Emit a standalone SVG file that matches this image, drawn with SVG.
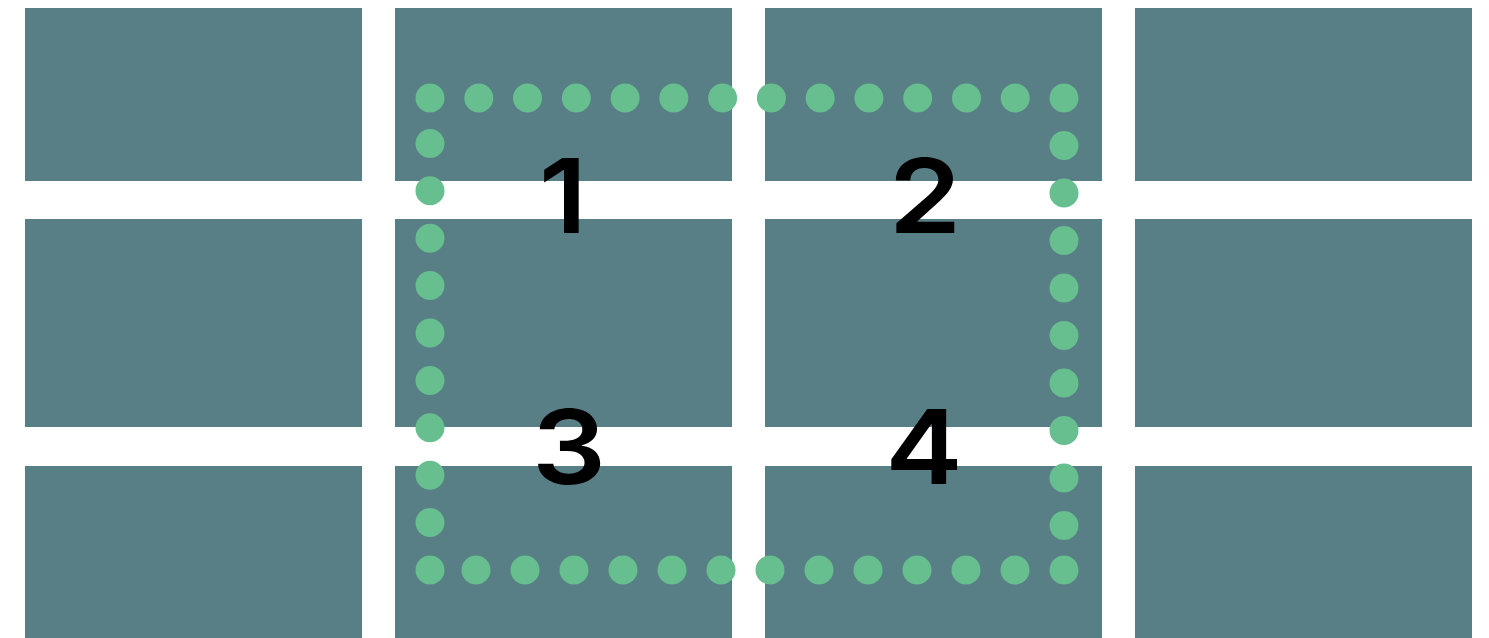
<svg xmlns="http://www.w3.org/2000/svg" width="1489" height="638" viewBox="0 0 1489 638">
<style>
.cell{fill:#587f86}
.dot{fill:#67be8e}
.num{font-family:Inter,"Liberation Sans",Arial,sans-serif;font-weight:600;font-size:103px;fill:#000;text-anchor:middle}
</style>
<rect width="1489" height="638" fill="#fff"/>
<g id="grid">
<rect class="cell" x="25" y="8" width="337" height="173"/>
<rect class="cell" x="395" y="8" width="337" height="173"/>
<rect class="cell" x="765" y="8" width="337" height="173"/>
<rect class="cell" x="1135" y="8" width="337" height="173"/>
<rect class="cell" x="25" y="219" width="337" height="208"/>
<rect class="cell" x="395" y="219" width="337" height="208"/>
<rect class="cell" x="765" y="219" width="337" height="208"/>
<rect class="cell" x="1135" y="219" width="337" height="208"/>
<rect class="cell" x="25" y="466" width="337" height="172"/>
<rect class="cell" x="395" y="466" width="337" height="172"/>
<rect class="cell" x="765" y="466" width="337" height="172"/>
<rect class="cell" x="1135" y="466" width="337" height="172"/>
</g>
<g id="dots">
<circle class="dot" cx="430" cy="98" r="14.5"/><circle class="dot" cx="478.8" cy="98" r="14.5"/><circle class="dot" cx="527.5" cy="98" r="14.5"/><circle class="dot" cx="576.3" cy="98" r="14.5"/><circle class="dot" cx="625.1" cy="98" r="14.5"/><circle class="dot" cx="673.8" cy="98" r="14.5"/><circle class="dot" cx="722.6" cy="98" r="14.5"/><circle class="dot" cx="771.4" cy="98" r="14.5"/><circle class="dot" cx="820.2" cy="98" r="14.5"/><circle class="dot" cx="868.9" cy="98" r="14.5"/><circle class="dot" cx="917.7" cy="98" r="14.5"/><circle class="dot" cx="966.5" cy="98" r="14.5"/><circle class="dot" cx="1015.2" cy="98" r="14.5"/><circle class="dot" cx="1064" cy="98" r="14.5"/>
<circle class="dot" cx="1064" cy="145.5" r="14.5"/><circle class="dot" cx="1064" cy="193" r="14.5"/><circle class="dot" cx="1064" cy="240.5" r="14.5"/><circle class="dot" cx="1064" cy="288" r="14.5"/><circle class="dot" cx="1064" cy="335.5" r="14.5"/><circle class="dot" cx="1064" cy="383" r="14.5"/><circle class="dot" cx="1064" cy="430.5" r="14.5"/><circle class="dot" cx="1064" cy="478" r="14.5"/><circle class="dot" cx="1064" cy="525.5" r="14.5"/><circle class="dot" cx="1064" cy="570" r="14.5"/>
<circle class="dot" cx="1015" cy="570" r="14.5"/><circle class="dot" cx="966" cy="570" r="14.5"/><circle class="dot" cx="917" cy="570" r="14.5"/><circle class="dot" cx="868" cy="570" r="14.5"/><circle class="dot" cx="819" cy="570" r="14.5"/><circle class="dot" cx="770" cy="570" r="14.5"/><circle class="dot" cx="721" cy="570" r="14.5"/><circle class="dot" cx="672" cy="570" r="14.5"/><circle class="dot" cx="623" cy="570" r="14.5"/><circle class="dot" cx="574" cy="570" r="14.5"/><circle class="dot" cx="525" cy="570" r="14.5"/><circle class="dot" cx="476" cy="570" r="14.5"/><circle class="dot" cx="430" cy="570" r="14.5"/>
<circle class="dot" cx="430" cy="522.6" r="14.5"/><circle class="dot" cx="430" cy="475.2" r="14.5"/><circle class="dot" cx="430" cy="427.8" r="14.5"/><circle class="dot" cx="430" cy="380.4" r="14.5"/><circle class="dot" cx="430" cy="333" r="14.5"/><circle class="dot" cx="430" cy="285.6" r="14.5"/><circle class="dot" cx="430" cy="238.2" r="14.5"/><circle class="dot" cx="430" cy="190.8" r="14.5"/><circle class="dot" cx="430" cy="143.4" r="14.5"/>
</g>
<g id="labels">
<text class="num" transform="translate(563,233) scale(1.1,1)">1</text>
<text class="num" transform="translate(925,233) scale(1.13,1)">2</text>
<text class="num" transform="translate(569,484) scale(1.13,1)">3</text>
<text class="num" transform="translate(924,484) scale(1.13,1)">4</text>
</g>
</svg>
